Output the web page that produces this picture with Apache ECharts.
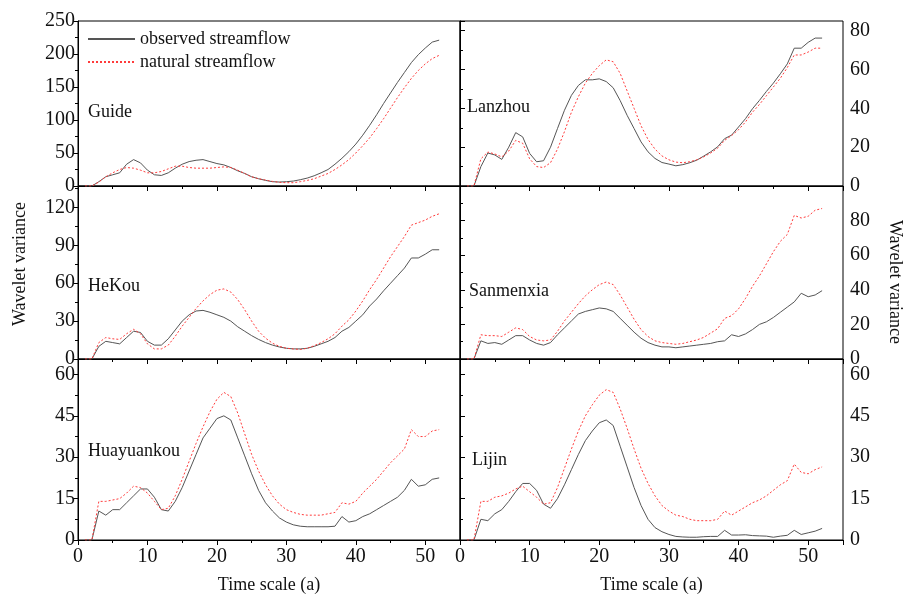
<!DOCTYPE html>
<html>
<head>
<meta charset="utf-8">
<style>
  html, body { margin: 0; padding: 0; background: #fff; }
  #chart { width: 910px; height: 595px; }
</style>
<script src="https://cdn.jsdelivr.net/npm/echarts@6/dist/echarts.min.js"></script>
</head>
<body>
<div id="chart"></div>
<script>
var myChart = echarts.init(document.getElementById('chart'));

var FONT = "'Liberation Serif', 'Times New Roman', serif";

// time scale (a)
var timeScale = [1, 2, 3, 4, 5, 6, 7, 8, 9, 10, 11, 12, 13, 14, 15, 16, 17, 18, 19, 20,
    21, 22, 23, 24, 25, 26, 27, 28, 29, 30, 31, 32, 33, 34, 35, 36, 37, 38, 39, 40,
    41, 42, 43, 44, 45, 46, 47, 48, 49, 50, 51, 52];

var stationNames = ['Guide', 'Lanzhou', 'HeKou', 'Sanmenxia', 'Huayuankou', 'Lijin'];
var seriesNames = ['observed streamflow', 'natural streamflow'];

var guideObs = [0, 0, 6.5, 14, 17, 20, 33, 40, 35, 24, 17, 16, 20, 27, 33, 37, 39, 40, 37, 34,
    32, 28, 23, 19, 14, 11, 8.5, 6.5, 6, 6.5, 7.5, 9.5, 12, 15.5, 20, 25, 33, 42, 52, 63.5,
    77, 92, 108, 125, 141, 157, 172, 187, 199, 209, 218, 221];
var guideNat = [0, 0, 6, 14, 20, 25, 28, 27, 24, 20, 20, 22, 26, 30, 30, 28, 27, 27, 27, 28,
    29, 28, 24, 19, 14, 11, 9, 7, 5.5, 5, 5, 6.5, 8.5, 11, 15, 19, 25, 32, 40, 50,
    61, 73, 87, 102, 118, 134, 149, 163, 175, 185, 193, 198];

var lanzhouObs = [0, 0, 10, 17, 16, 13.7, 20, 27.5, 25.3, 16.8, 12.5, 13, 20, 29.6, 39, 46.7, 51.8, 54.7, 54.7, 55.2,
    53.8, 50.6, 44, 36.4, 29.6, 22.7, 17.6, 14.2, 12.1, 11.3, 10.4, 11, 12, 13.3, 15.4, 17.6, 20.2, 24.4, 26.2, 30.4,
    34.7, 39.8, 44.1, 48.7, 53, 57.8, 62.9, 71, 71, 74, 76.2, 76.2];
var lanzhouNat = [0, 0, 14, 17.5, 16.5, 15, 18, 23.5, 22, 14, 10, 9.5, 12, 19, 28, 38, 46, 53, 58, 62,
    65, 64, 58, 49, 40, 31, 24, 19, 15.5, 13.5, 12.3, 12, 12.5, 13.5, 15, 17, 19.5, 23.5, 26, 29,
    33, 38, 42, 46.5, 51, 55.5, 61, 67.5, 67.5, 69, 71, 71];

var hekouObs = [0, 0, 10, 14, 13, 12, 17, 22, 21, 14, 11, 11, 16, 23, 30, 35, 38, 38.5, 37, 35,
    33, 30, 25.5, 22, 18.5, 15.5, 13, 11, 9.5, 8.5, 8, 8, 8.5, 10, 12, 14, 17, 22, 25, 30,
    35, 42, 47.5, 54, 60, 66, 72, 80, 80, 83, 86.5, 86.5];
var hekouNat = [0, 0, 13, 17, 16, 15.5, 20, 23.5, 20, 12, 8, 8, 11, 18, 26, 33, 40, 46, 51, 54.5,
    55.5, 53, 47, 39, 30, 22, 16.5, 12.5, 10, 8.5, 8, 7.5, 8.5, 10.5, 13, 16, 20, 26, 31, 38,
    46, 55, 63, 72, 81, 89, 97, 106, 108, 110, 113, 115];

var sanmenxiaObs = [0, 0, 10.5, 9, 9.5, 8.5, 11, 13.5, 13.5, 11, 9, 8, 9.5, 14, 18, 22, 26, 27.5, 28.5, 29.5,
    29, 27.5, 23.5, 19.5, 15.5, 12, 9.5, 8, 7, 7, 6.5, 7, 7.5, 8, 8.5, 9, 10, 10.5, 14, 13,
    14.5, 17, 20, 21.5, 24, 27, 30, 33, 38, 36, 37, 39.5];
var sanmenxiaNat = [0, 0, 14, 13.5, 13.5, 13, 15.5, 18, 17, 13, 11, 10.5, 11, 16, 22, 27, 32, 36.5, 40, 43,
    44.5, 43, 37, 30, 23, 17, 13, 10.5, 9.5, 9, 8.5, 9, 10, 11, 12.5, 15, 17.5, 23.5, 25, 29,
    35, 42, 48, 55, 62, 68, 72, 83, 81.5, 82.5, 86, 87];

var huayuankouObs = [0, 0, 10.5, 9, 11, 11, 13.5, 16, 18.5, 18.5, 15.5, 11, 10.5, 14, 19, 25, 31, 37, 40.5, 44,
    45, 43.5, 37, 30.5, 24, 18, 13.5, 10.5, 8, 6.5, 5.5, 5, 4.8, 4.8, 4.8, 4.8, 5, 8.5, 6.5, 7,
    8.5, 9.5, 11, 12.5, 14, 15.5, 18, 22, 19.5, 20, 22, 22.5];
var huayuankouNat = [0, 0, 14, 14, 14.5, 15, 17, 19.5, 19, 17, 14, 11, 11.5, 16, 22, 28.5, 35, 41, 46.5, 51,
    53.5, 52, 46, 38.5, 31, 25, 20, 16, 13, 11, 10, 9.3, 9, 9, 9, 9.5, 10, 13.5, 13, 14,
    17, 19.5, 22, 25, 28, 30.5, 33, 40, 37.5, 37.5, 39.5, 40];

var lijinObs = [0, 0, 7.5, 7, 9.5, 11, 14, 17.5, 20.5, 20.5, 18, 13, 11.5, 15, 20, 25.5, 31, 36, 39.5, 42.5,
    43.5, 41.5, 34, 26.5, 19, 12.5, 7.5, 4.5, 3, 2, 1.3, 1.1, 1, 1, 1.2, 1.3, 1.3, 3.5, 1.8, 1.8,
    1.9, 1.6, 1.5, 1.4, 1, 1.4, 1.7, 3.5, 2, 2.6, 3.2, 4.2];
var lijinNat = [0, 0, 14, 14, 15.5, 16, 17, 18.5, 19.5, 17.5, 15.5, 13, 13.5, 19, 26, 33, 39.5, 45, 49, 52.5,
    54.5, 53.5, 47.5, 40.5, 33, 26, 20.5, 16, 12.5, 10.5, 9, 8.5, 7.5, 7, 7, 7, 7.5, 10.5, 9, 10.5,
    12, 13.5, 14.5, 16, 18, 20, 21.5, 27.5, 24.5, 24, 25.5, 26.5];

var obsList = [guideObs, lanzhouObs, hekouObs, sanmenxiaObs, huayuankouObs, lijinObs];
var natList = [guideNat, lanzhouNat, hekouNat, sanmenxiaNat, huayuankouNat, lijinNat];

// y axis extents and tick steps for each panel
var yMax = [250, 85, 137, 100, 65.6, 65.6];
var yStep = [50, 20, 30, 20, 15, 15];

// panel boxes
var gridBoxes = [
    {left: 78, top: 21, width: 382, height: 165},
    {left: 460, top: 21, width: 383, height: 165},
    {left: 78, top: 186, width: 382, height: 173},
    {left: 460, top: 186, width: 383, height: 173},
    {left: 78, top: 359, width: 382, height: 181},
    {left: 460, top: 359, width: 383, height: 181}
];
var labelPos = [[88, 113], [467, 108], [88, 287], [469, 292], [88, 452], [472, 461]];

function pairs(ys) {
    return ys.map(function (v, i) { return [timeScale[i], v]; });
}

var grids = [], xAxes = [], yAxes = [], series = [], graphics = [];

gridBoxes.forEach(function (b, i) {
    var isRight = i % 2 === 1;
    var isBottom = i >= 4;
    grids.push({
        left: b.left, top: b.top, width: b.width, height: b.height,
        show: true, borderColor: '#000', borderWidth: 1, containLabel: false
    });
    xAxes.push({
        type: 'value', gridIndex: i, min: 0, max: 55, interval: 10,
        name: isBottom ? 'Time scale (a)' : '',
        nameLocation: 'middle', nameGap: 36,
        nameTextStyle: {fontFamily: FONT, fontSize: 18, color: '#111'},
        axisLine: {show: true, onZero: false, lineStyle: {color: '#000', width: 1}},
        axisTick: {show: true, length: 5, lineStyle: {color: '#000'}},
        minorTick: {show: true, splitNumber: 2, length: 3, lineStyle: {color: '#000'}},
        splitLine: {show: false},
        axisLabel: {
            show: isBottom, margin: 7, fontFamily: FONT, fontSize: 20, color: '#111',
            showMaxLabel: false,
            formatter: function (v) { return v % 10 === 0 ? String(v) : ''; }
        }
    });
    var step = yStep[i];
    yAxes.push({
        type: 'value', gridIndex: i, min: 0, max: yMax[i], interval: step,
        position: isRight ? 'right' : 'left',
        axisLine: {show: true, lineStyle: {color: '#000', width: 1}},
        axisTick: {show: true, length: 5, lineStyle: {color: '#000'}},
        minorTick: {show: true, splitNumber: 2, length: 3, lineStyle: {color: '#000'}},
        splitLine: {show: false},
        axisLabel: {
            margin: isRight ? 7 : 3, fontFamily: FONT, fontSize: 20, color: '#111',
            showMaxLabel: i === 0,
            formatter: function (v) { return v % step === 0 ? String(v) : ''; }
        }
    });
    series.push({
        name: seriesNames[0], type: 'line', xAxisIndex: i, yAxisIndex: i,
        data: pairs(obsList[i]), symbol: 'none', showSymbol: false,
        lineStyle: {color: '#555', width: 1, type: 'solid'},
        itemStyle: {color: '#000'},
        silent: true, animation: false
    });
    series.push({
        name: seriesNames[1], type: 'line', xAxisIndex: i, yAxisIndex: i,
        data: pairs(natList[i]), symbol: 'none', showSymbol: false,
        lineStyle: {color: '#ff3b3b', width: 1, type: [2, 2]},
        itemStyle: {color: '#ff0000'},
        silent: true, animation: false
    });
    graphics.push({
        type: 'text', left: labelPos[i][0], top: labelPos[i][1] - 10,
        style: {text: stationNames[i], fontFamily: FONT, fontSize: 18, fill: '#111'}
    });
});

graphics.push({
    type: 'text', x: 20, y: 264, rotation: Math.PI / 2,
    style: {text: 'Wavelet variance', fontFamily: FONT, fontSize: 18, fill: '#111',
        align: 'center', verticalAlign: 'middle'}
});
graphics.push({
    type: 'text', x: 895, y: 282, rotation: -Math.PI / 2,
    style: {text: 'Wavelet variance', fontFamily: FONT, fontSize: 18, fill: '#111',
        align: 'center', verticalAlign: 'middle'}
});

var option = {
    backgroundColor: '#fff',
    animation: false,
    grid: grids,
    xAxis: xAxes,
    yAxis: yAxes,
    legend: {
        data: seriesNames,
        orient: 'vertical', left: 82, top: 25,
        itemWidth: 47, itemHeight: 14, itemGap: 5,
        selectedMode: false,
        itemStyle: {opacity: 0},
        textStyle: {fontFamily: FONT, fontSize: 18, color: '#111', lineHeight: 18}
    },
    graphic: graphics,
    series: series
};

myChart.setOption(option);
</script>
</body>
</html>
